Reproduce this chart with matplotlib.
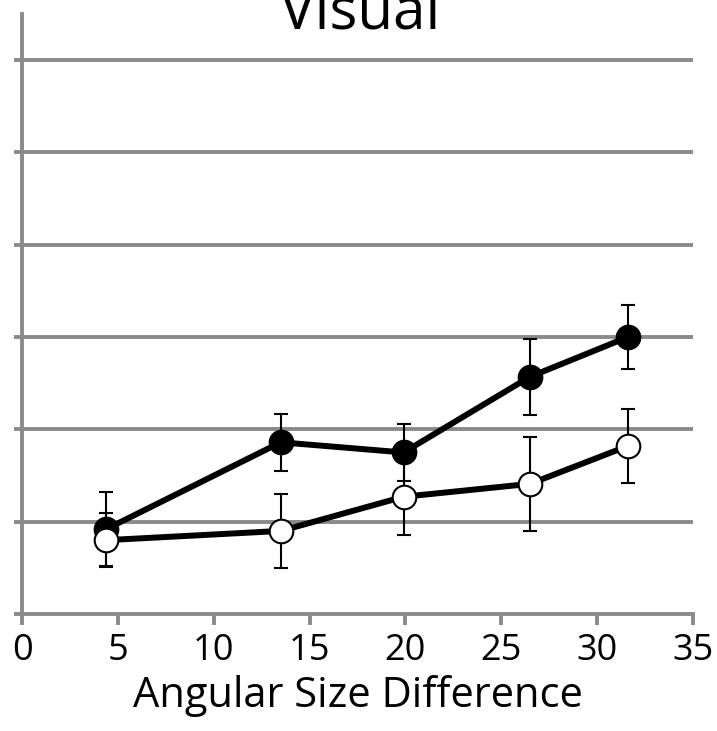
import matplotlib
matplotlib.use("Agg")
import matplotlib.pyplot as plt

# Data
x_vals = [4.4, 13.5, 19.9, 26.5, 31.6]
filled_y = [0.92, 1.86, 1.75, 2.57, 3.00]
filled_err = [0.40, 0.31, 0.31, 0.41, 0.35]
open_y = [0.80, 0.90, 1.27, 1.41, 1.82]
open_err = [0.29, 0.40, 0.41, 0.51, 0.40]
x_ticks = [0, 5, 10, 15, 20, 25, 30, 35]
y_ticks = [0, 1, 2, 3, 4, 5, 6]

plt.rcParams['font.family'] = ['Open Sans', 'DejaVu Sans']
gray = '#8a8a8a'

fig = plt.figure(figsize=(7.17, 7.31), dpi=100)
ax = fig.add_axes([22/717, 1-614/731, (693-22)/717, (614-14)/731])

ax.set_xlim(0, 35)
ax.set_ylim(0, 6.5)
ax.set_xticks(x_ticks)
ax.set_yticks(y_ticks)
ax.set_yticklabels([])
for yv in y_ticks[1:]:
    ax.axhline(yv, color=gray, lw=2.8, zorder=1, solid_capstyle='round')

for s in ['top', 'right']:
    ax.spines[s].set_visible(False)
for s in ['left', 'bottom']:
    ax.spines[s].set_color(gray)
    ax.spines[s].set_linewidth(2.8)
ax.spines['bottom'].set_bounds(0, 35)

ax.tick_params(axis='y', direction='out', length=6, width=2.8, color=gray)
ax.tick_params(axis='x', direction='out', length=8, width=2.8, color=gray,
               labelsize=26, pad=6)

ax.errorbar(x_vals, filled_y, yerr=filled_err, fmt='-o', color='black',
            lw=4.3, ms=17, mfc='black', mec='black', mew=1.5,
            ecolor='black', elinewidth=1.5, capsize=5, capthick=1.5, zorder=3)
ax.errorbar(x_vals, open_y, yerr=open_err, fmt='-o', color='black',
            lw=4.3, ms=17, mfc='white', mec='black', mew=1.5,
            ecolor='black', elinewidth=1.5, capsize=5, capthick=1.5, zorder=4)

ax.set_xlabel('Angular Size Difference', fontsize=30, labelpad=4)
fig.text(360/717, 1-30/731, 'Visual', ha='center', va='baseline', fontsize=42)

fig.savefig('out.png', dpi=100)
